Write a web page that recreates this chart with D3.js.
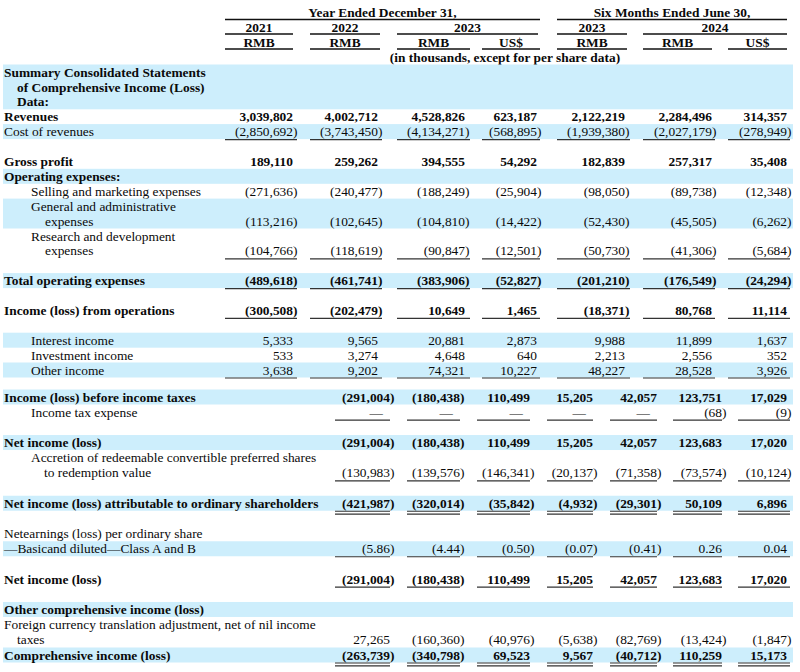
<!DOCTYPE html>
<html><head><meta charset="utf-8">
<script src="https://cdn.jsdelivr.net/npm/d3@7"></script>
<style>
html,body{margin:0;padding:0;background:#fff;}
svg text{font-family:"Liberation Serif","Times New Roman",serif;font-size:13.4px;fill:#0a0a0a;}
</style></head>
<body><svg id="chart" width="800" height="672"></svg>
<script>
// ---------------- DATA ----------------
const periodHeaders = ["Year Ended December 31,", "Six Months Ended June 30,"];
const yearLabels = ["2021", "2022", "2023", "2023", "2024"];
const currencyLabels = ["RMB", "RMB", "RMB", "US$", "RMB", "RMB", "US$"];
const unitNote = "(in thousands, except for per share data)";
const columns = ["FY2021 RMB", "FY2022 RMB", "FY2023 RMB", "FY2023 US$", "H1 2023 RMB", "H1 2024 RMB", "H1 2024 US$"];

const revenues = [3039802, 4002712, 4528826, 623187, 2122219, 2284496, 314357];
const costOfRevenues = [-2850692, -3743450, -4134271, -568895, -1939380, -2027179, -278949];
const grossProfit = [189110, 259262, 394555, 54292, 182839, 257317, 35408];
const sellingMarketing = [-271636, -240477, -188249, -25904, -98050, -89738, -12348];
const generalAdmin = [-113216, -102645, -104810, -14422, -52430, -45505, -6262];
const researchDev = [-104766, -118619, -90847, -12501, -50730, -41306, -5684];
const totalOpex = [-489618, -461741, -383906, -52827, -201210, -176549, -24294];
const incomeFromOps = [-300508, -202479, 10649, 1465, -18371, 80768, 11114];
const interestIncome = [5333, 9565, 20881, 2873, 9988, 11899, 1637];
const investmentIncome = [533, 3274, 4648, 640, 2213, 2556, 352];
const otherIncome = [3638, 9202, 74321, 10227, 48227, 28528, 3926];
const incomeBeforeTax = [-291004, -180438, 110499, 15205, 42057, 123751, 17029];
const incomeTaxExpense = [null, null, null, null, null, -68, -9];
const netIncome = [-291004, -180438, 110499, 15205, 42057, 123683, 17020];
const accretion = [-130983, -139576, -146341, -20137, -71358, -73574, -10124];
const netIncomeOrdinary = [-421987, -320014, -35842, -4932, -29301, 50109, 6896];
const epsBasicDiluted = [-5.86, -4.44, -0.50, -0.07, -0.41, 0.26, 0.04];
const foreignCurrencyAdj = [27265, -160360, -40976, -5638, -82769, -13424, -1847];
const comprehensiveIncome = [-263739, -340798, 69523, 9567, -40712, 110259, 15173];

// ---------------- LAYOUT ----------------
const rows = [
  {lines:["Summary Consolidated Statements","of Comprehensive Income (Loss)","Data:"], indent:[0,13,13], line:-3, bold:true, band:true},
  {lines:["Revenues"], indent:[0], line:0, bold:true, values:revenues, sec:"U"},
  {lines:["Cost of revenues"], indent:[0], line:1, band:true, values:costOfRevenues, sec:"U", ul:1},
  {lines:["Gross profit"], indent:[0], line:3, bold:true, values:grossProfit, sec:"U"},
  {lines:["Operating expenses:"], indent:[0], line:4, bold:true, band:true},
  {lines:["Selling and marketing expenses"], indent:[27], line:5, values:sellingMarketing, sec:"U"},
  {lines:["General and administrative","expenses"], indent:[27,41], line:6, band:true, values:generalAdmin, sec:"U"},
  {lines:["Research and development","expenses"], indent:[27,41], line:8, values:researchDev, sec:"U", ul:1},
  {lines:["Total operating expenses"], indent:[0], line:11, bold:true, band:true, values:totalOpex, sec:"U", ul:1},
  {lines:["Income (loss) from operations"], indent:[0], line:13, bold:true, values:incomeFromOps, sec:"U", ul:1},
  {lines:["Interest income"], indent:[27], line:15, band:true, values:interestIncome, sec:"U"},
  {lines:["Investment income"], indent:[27], line:16, values:investmentIncome, sec:"U"},
  {lines:["Other income"], indent:[27], line:17, band:true, values:otherIncome, sec:"U", ul:1},
  {lines:["Income (loss) before income taxes"], indent:[0], line:19, bold:true, band:true, values:incomeBeforeTax, sec:"L"},
  {lines:["Income tax expense"], indent:[27], line:20, values:incomeTaxExpense, sec:"L", ul:1},
  {lines:["Net income (loss)"], indent:[0], line:22, bold:true, band:true, values:netIncome, sec:"L"},
  {lines:["Accretion of redeemable convertible preferred shares","to redemption value"], indent:[27,40], line:23, values:accretion, sec:"L", ul:1},
  {lines:["Net income (loss) attributable to ordinary shareholders"], indent:[0], line:26, bold:true, band:true, values:netIncomeOrdinary, sec:"L", ul:2},
  {lines:["Netearnings (loss) per ordinary share"], indent:[0], line:28},
  {lines:["\u2014Basicand diluted\u2014Class A and B"], indent:[0], line:29, band:true, values:epsBasicDiluted, sec:"L", ul:1, dec:2},
  {lines:["Net income (loss)"], indent:[0], line:31, bold:true, values:netIncome, sec:"L", ul:1},
  {lines:["Other comprehensive income (loss)"], indent:[0], line:33, bold:true, band:true},
  {lines:["Foreign currency translation adjustment, net of nil income","taxes"], indent:[0,13], line:34, values:foreignCurrencyAdj, sec:"L"},
  {lines:["Comprehensive income (loss)"], indent:[0], line:36, bold:true, band:true, values:comprehensiveIncome, sec:"L", ul:2}
];

const svg = d3.select("#chart");
const BLUE = "#cdeefc";
const y = d3.scaleLinear().domain([-3, 17, 19, 36]).range([72, 370, 397, 655]);

// column right edges (digits) and underline spans, upper and lower sections
const xU = d3.scaleOrdinal().domain(columns).range([293, 378, 465, 537, 625, 712, 787]);
const ulU = d3.scaleOrdinal().domain(columns).range([[225,297],[310,382],[397,470],[482,540],[557,630],[643,715],[728,790]]);
const xL = d3.scaleOrdinal().domain(columns).range([390, 460, 530, 593, 657, 722, 787]);
const ulL = d3.scaleOrdinal().domain(columns).range([[335,390],[407,460],[477,530],[547,593],[610,657],[673,722],[738,790]]);

const fmtInt = d3.format(",");
const fmtDec = d3.format(",.2f");

// ---------------- HEADER ----------------
const hdr = svg.append("g");
const hLine = (x1, x2, yy, w) => hdr.append("line").attr("x1", x1).attr("x2", x2).attr("y1", yy).attr("y2", yy)
  .attr("stroke", "#111").attr("stroke-width", w || 1.5);
const hText = (t, cx, cy) => hdr.append("text").attr("x", cx).attr("y", cy + 4.6).attr("text-anchor", "middle")
  .attr("font-weight", "bold").text(t);

const periodSpans = [[225, 540], [557, 787]];
periodHeaders.forEach((t, i) => { hText(t, (periodSpans[i][0] + periodSpans[i][1]) / 2, 12); hLine(periodSpans[i][0], periodSpans[i][1], 19.5); });
const yearSpans = [[225, 293], [310, 380], [397, 538], [557, 627], [643, 787]];
yearLabels.forEach((t, i) => { hText(t, (yearSpans[i][0] + yearSpans[i][1]) / 2, 27); hLine(yearSpans[i][0], yearSpans[i][1], 34); });
const curSpans = [[225, 293], [310, 380], [397, 470], [482, 540], [557, 627], [643, 712], [728, 787]];
currencyLabels.forEach((t, i) => { hText(t, (curSpans[i][0] + curSpans[i][1]) / 2, 42); hLine(curSpans[i][0], curSpans[i][1], 49); });
hText(unitNote, 505, 57);

// ---------------- BODY ----------------
const body = svg.append("g");
rows.forEach(r => {
  const n = r.lines.length;
  const top = y(r.line) - 7.5;
  const bottom = y(r.line + n - 1) + 7.5;
  if (r.band) {
    body.append("rect").attr("x", 3).attr("width", 790).attr("y", top).attr("height", bottom - top).attr("fill", BLUE);
  }
  r.lines.forEach((t, i) => {
    body.append("text").attr("x", 4 + r.indent[i]).attr("y", y(r.line + i) + 4.6)
      .attr("font-weight", r.bold ? "bold" : null).text(t);
  });
  if (!r.values) return;
  const vy = y(r.line + n - 1);
  const xs = r.sec === "U" ? xU : xL;
  const uls = r.sec === "U" ? ulU : ulL;
  const g = body.append("g").attr("font-weight", r.bold ? "bold" : null);
  columns.forEach((c, j) => {
    const v = r.values[j];
    const xr = xs(c);
    if (v === null) {
      g.append("text").attr("x", xr - 7).attr("y", vy + 4.6).attr("text-anchor", "end").text("\u2014");
    } else {
      const s = r.dec ? fmtDec(Math.abs(v)) : fmtInt(Math.abs(v));
      if (v < 0) {
        g.append("text").attr("x", xr).attr("y", vy + 4.6).attr("text-anchor", "end").text("(" + s);
        g.append("text").attr("x", xr).attr("y", vy + 4.6).attr("text-anchor", "start").text(")");
      } else {
        g.append("text").attr("x", xr).attr("y", vy + 4.6).attr("text-anchor", "end").text(s);
      }
    }
    if (r.ul) {
      const [a, b] = uls(c);
      const ly = vy + 8;
      body.append("line").attr("x1", a).attr("x2", b).attr("y1", ly).attr("y2", ly).attr("stroke", "#333").attr("stroke-width", 1.2);
      if (r.ul === 2) body.append("line").attr("x1", a).attr("x2", b).attr("y1", ly + 2.8).attr("y2", ly + 2.8).attr("stroke", "#333").attr("stroke-width", 1.2);
    }
  });
});
</script></body></html>
